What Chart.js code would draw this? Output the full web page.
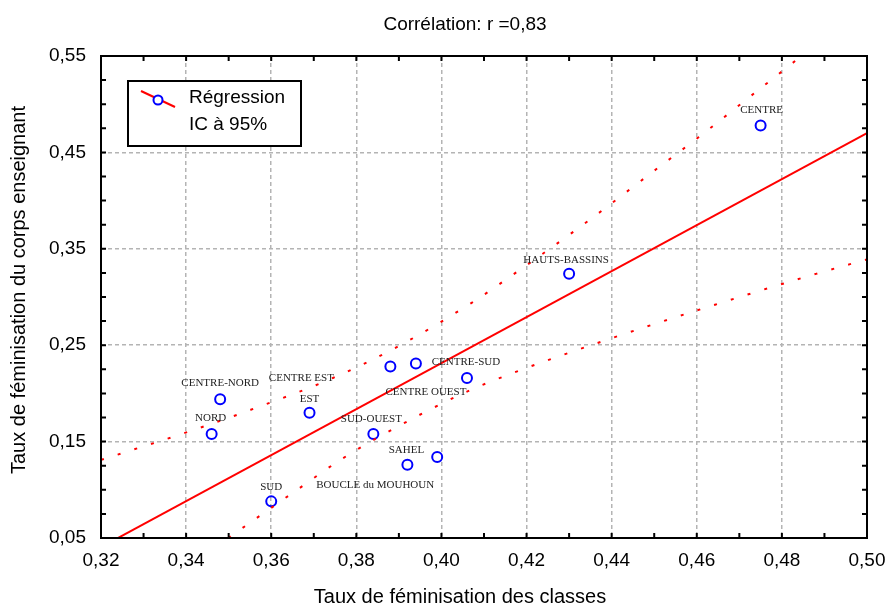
<!DOCTYPE html>
<html>
<head>
<meta charset="utf-8">
<script src="https://cdn.jsdelivr.net/npm/chart.js@4/dist/chart.umd.min.js"></script>
<style>
  html, body { margin: 0; padding: 0; background: #fff; }
  #wrap { width: 887px; height: 607px; }
</style>
</head>
<body>
<div id="wrap"><canvas id="correlation-chart" width="887" height="607"></canvas></div>
<script>
// Régions et taux de féminisation
const regions = ['CENTRE', 'HAUTS-BASSINS', 'CENTRE-SUD', 'CENTRE OUEST', 'CENTRE EST', 'EST',
                 'CENTRE-NORD', 'NORD', 'SUD-OUEST', 'SAHEL', 'BOUCLE du MOUHOUN', 'SUD'];
const tauxClasses = [0.475, 0.430, 0.406, 0.394, 0.388, 0.369, 0.348, 0.346, 0.384, 0.392, 0.399, 0.360];
const tauxEnseignants = [0.478, 0.324, 0.216, 0.231, 0.228, 0.180, 0.194, 0.158, 0.158, 0.126, 0.134, 0.088];

// Droite de régression (extrémités)
const regX = [0.32, 0.50];
const regY = [0.0405, 0.470];

// Intervalle de confiance à 95% (bornes haute et basse)
const icHautX = [0.320, 0.3397, 0.3552, 0.3745, 0.3895, 0.4071, 0.4174, 0.4342, 0.4506, 0.4605, 0.4737, 0.4846];
const icHautY = [0.131, 0.159, 0.183, 0.216, 0.248, 0.294, 0.325, 0.378, 0.433, 0.466, 0.512, 0.550];
const icBasX = [0.3499, 0.3528, 0.3664, 0.3766, 0.3874, 0.4058, 0.4173, 0.4405, 0.4643, 0.4880, 0.500];
const icBasY = [0.050, 0.059, 0.101, 0.132, 0.160, 0.2015, 0.222, 0.258, 0.292, 0.324, 0.339];

// Graduations
const xTickLabels = ['0,32', '0,34', '0,36', '0,38', '0,40', '0,42', '0,44', '0,46', '0,48', '0,50'];
const yTickLabels = ['0,05', '0,15', '0,25', '0,35', '0,45', '0,55'];

const titre = 'Corrélation: r =0,83';
const titreX = 'Taux de féminisation des classes';
const titreY = 'Taux de féminisation du corps enseignant';
const legende = ['Régression', 'IC à 95%'];

const toPoints = (xs, ys) => xs.map((x, i) => ({ x: x, y: ys[i] }));
const findLabel = (labels, v) => labels.find(l => Math.abs(parseFloat(l.replace(',', '.')) - v) < 1e-6);

// label offsets around each point (px)
const labelOffsets = {
    'CENTRE': [1, -15], 'HAUTS-BASSINS': [-3, -14], 'CENTRE-SUD': [-1, -16],
    'CENTRE OUEST': [10, 29], 'CENTRE EST': [-89, 12], 'EST': [0, -14],
    'CENTRE-NORD': [0, -16], 'NORD': [-1, -16], 'SUD-OUEST': [-2, -15],
    'SAHEL': [-1, -15], 'BOUCLE du MOUHOUN': [-62, 28], 'SUD': [0, -14]
};

const SANS = '"Liberation Sans", Arial, sans-serif';
const SERIF = '"Liberation Serif", "Times New Roman", serif';

const decorPlugin = {
    id: 'decor',
    afterDatasetsDraw(chart) {
        const ctx = chart.ctx;
        const meta = chart.getDatasetMeta(3);
        ctx.save();
        ctx.font = '11px ' + SERIF;
        ctx.fillStyle = '#222';
        ctx.textAlign = 'center';
        ctx.textBaseline = 'middle';
        meta.data.forEach((pt, i) => {
            const off = labelOffsets[regions[i]] || [0, -14];
            ctx.fillText(regions[i], pt.x + off[0], pt.y + off[1]);
        });
        ctx.restore();
    },
    afterDraw(chart) {
        const ctx = chart.ctx;
        const a = chart.chartArea;
        const xs = chart.scales.x, ys = chart.scales.y;
        ctx.save();
        // frame
        ctx.strokeStyle = '#000';
        ctx.lineWidth = 2;
        ctx.strokeRect(a.left, a.top, a.right - a.left, a.bottom - a.top);
        // inward tick marks
        ctx.beginPath();
        xs.ticks.forEach(t => {
            const px = xs.getPixelForValue(t.value);
            ctx.moveTo(px, a.bottom); ctx.lineTo(px, a.bottom - 5);
            ctx.moveTo(px, a.top); ctx.lineTo(px, a.top + 5);
        });
        ys.ticks.forEach(t => {
            const py = ys.getPixelForValue(t.value);
            ctx.moveTo(a.left, py); ctx.lineTo(a.left + 5, py);
            ctx.moveTo(a.right, py); ctx.lineTo(a.right - 5, py);
        });
        ctx.stroke();

        // legend box
        const lx = a.left + 27, ly = a.top + 25, lw = 173, lh = 65;
        ctx.fillStyle = '#fff';
        ctx.fillRect(lx, ly, lw, lh);
        ctx.lineWidth = 2;
        ctx.strokeRect(lx, ly, lw, lh);
        ctx.strokeStyle = '#ff0000';
        ctx.beginPath();
        ctx.moveTo(lx + 13, ly + 10);
        ctx.lineTo(lx + 47, ly + 26);
        ctx.stroke();
        ctx.fillStyle = '#fff';
        ctx.strokeStyle = '#0000ff';
        ctx.beginPath();
        ctx.arc(lx + 30, ly + 19, 4.5, 0, Math.PI * 2);
        ctx.fill();
        ctx.stroke();
        ctx.fillStyle = '#000';
        ctx.font = '19px ' + SANS;
        ctx.textAlign = 'left';
        ctx.textBaseline = 'middle';
        ctx.fillText(legende[0], lx + 61, ly + 17);
        ctx.fillText(legende[1], lx + 61, ly + 44);

        // titles
        ctx.textAlign = 'center';
        ctx.fillText(titre, 465, 25);
        ctx.font = '20px ' + SANS;
        ctx.fillText(titreX, 460, 597);
        ctx.translate(19, 290);
        ctx.rotate(-Math.PI / 2);
        ctx.fillText(titreY, 0, 0);
        ctx.restore();
    }
};

function generateCorrelationChart() {
    const ctx = document.getElementById('correlation-chart').getContext('2d');

    const data = {
        datasets: [
            {
                label: 'IC haut',
                data: toPoints(icHautX, icHautY),
                showLine: true,
                borderColor: '#ff0000',
                borderWidth: 2,
                borderDash: [3, 14.5],
                cubicInterpolationMode: 'monotone',
                pointRadius: 0
            },
            {
                label: 'IC bas',
                data: toPoints(icBasX, icBasY),
                showLine: true,
                borderColor: '#ff0000',
                borderWidth: 2,
                borderDash: [3, 14.5],
                cubicInterpolationMode: 'monotone',
                pointRadius: 0
            },
            {
                label: 'Régression',
                data: toPoints(regX, regY),
                showLine: true,
                borderColor: '#ff0000',
                borderWidth: 2,
                pointRadius: 0
            },
            {
                label: 'Régions',
                data: toPoints(tauxClasses, tauxEnseignants),
                showLine: false,
                pointStyle: 'circle',
                pointRadius: 5,
                pointBorderWidth: 2,
                pointBorderColor: '#0000ff',
                pointBackgroundColor: 'rgba(0,0,0,0)'
            }
        ]
    };

    const options = {
        responsive: false,
        animation: false,
        events: [],
        layout: { padding: { top: 56, right: 20, bottom: 0, left: 0 } },
        plugins: { legend: { display: false }, tooltip: { enabled: false }, title: { display: false } },
        scales: {
            x: {
                type: 'linear',
                min: 0.32,
                max: 0.50,
                ticks: {
                    stepSize: 0.01,
                    autoSkip: false,
                    maxRotation: 0,
                    padding: 11,
                    color: '#000',
                    font: { family: SANS, size: 19 },
                    callback: v => findLabel(xTickLabels, v) || ''
                },
                grid: {
                    drawTicks: false,
                    lineWidth: 1.5,
                    color: c => {
                        const v = c.tick ? c.tick.value : 0;
                        return findLabel(xTickLabels, v) && v > 0.325 && v < 0.495 ? '#b4b4b4' : 'rgba(0,0,0,0)';
                    }
                },
                border: { display: false, dash: [4, 3] },
                afterFit: s => { s.height = 69; s.paddingRight = 0; s.paddingLeft = 0; }
            },
            y: {
                type: 'linear',
                min: 0.05,
                max: 0.55,
                ticks: {
                    stepSize: 0.025,
                    autoSkip: false,
                    padding: 15,
                    color: '#000',
                    font: { family: SANS, size: 19 },
                    callback: v => findLabel(yTickLabels, v) || ''
                },
                grid: {
                    drawTicks: false,
                    lineWidth: 1.5,
                    color: c => {
                        const v = c.tick ? c.tick.value : 0;
                        return findLabel(yTickLabels, v) && v > 0.06 && v < 0.54 ? '#b4b4b4' : 'rgba(0,0,0,0)';
                    }
                },
                border: { display: false, dash: [4, 3] },
                afterFit: s => { s.width = 101; s.paddingTop = 0; s.paddingBottom = 0; }
            }
        }
    };

    new Chart(ctx, { type: 'scatter', data: data, options: options, plugins: [decorPlugin] });
}

window.onload = generateCorrelationChart;
</script>
</body>
</html>
